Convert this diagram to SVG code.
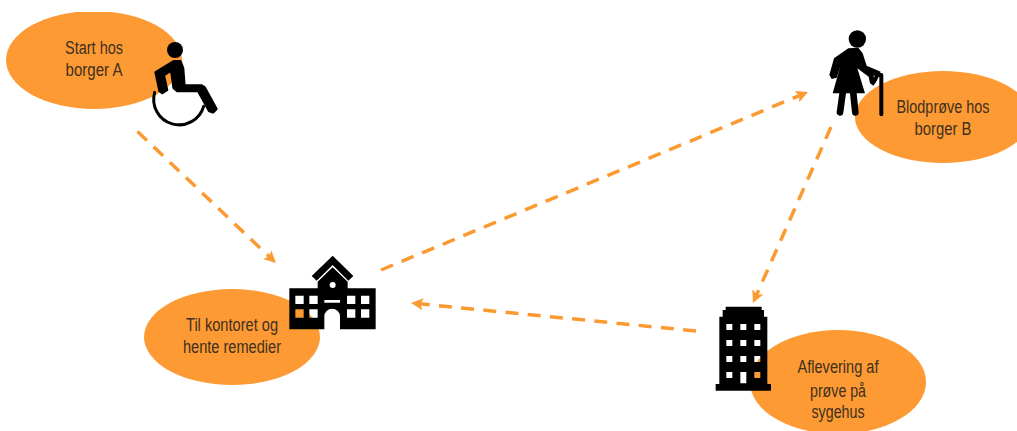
<svg xmlns="http://www.w3.org/2000/svg" width="1017" height="431" viewBox="0 0 1017 431">
<defs>
<marker id="ah" markerUnits="userSpaceOnUse" markerWidth="16" markerHeight="16" refX="6" refY="8" orient="auto"><path d="M0 2L12 8L0 14L2.500 8Z" fill="#fb9a33"/></marker>
<clipPath id="top"><rect x="0" y="12" width="1017" height="419"/></clipPath>
</defs>
<style>
.b{fill:#fd9a33}
.k{fill:#000}
.kr{fill:#000;stroke:#000;stroke-width:8;stroke-linejoin:round}
.h{fill:#000;fill-rule:evenodd}
.ks{fill:none;stroke:#000;stroke-linecap:round;stroke-linejoin:round}
.c{fill:none;stroke:#fb9a33;stroke-width:3.500;stroke-dasharray:13 9.300;marker-end:url(#ah)}
text{font-family:"Liberation Sans",Arial,sans-serif;font-size:18px;fill:#40301f;text-anchor:middle}
</style>
<rect width="1017" height="431" fill="#fff"/>
<g id="connectors">
<path class="c" d="M137.500 131.500L271.600 258.900"/>
<path class="c" d="M381 270L802.500 94.300"/>
<path class="c" d="M831 127L755.400 297.500"/>
<path class="c" d="M696 331L417 303.600"/>
</g>
<g id="node-a">
<ellipse class="b" cx="94" cy="60" rx="88" ry="49" clip-path="url(#top)"/>
<text x="94" y="54" textLength="58" lengthAdjust="spacingAndGlyphs">Start hos</text>
<text x="94" y="76" textLength="57" lengthAdjust="spacingAndGlyphs">borger A</text>
<g transform="translate(145 35) scale(.3333)">
<circle class="k" cx="90" cy="45" r="24"/>
<path class="kr" d="M32 112L86 79H106L114 100L118 152H170L179 158L214 222L204 232L193 228L160 168H97L86 158L79 106L56 120L66 165L52 174L44 168Z"/>
<path class="ks" stroke-width="9" d="M29 172A76 76 0 1 0 176 214"/>
</g>
</g>
<g id="node-c">
<ellipse class="b" cx="232" cy="337" rx="88" ry="48"/>
<text x="232" y="331" textLength="92" lengthAdjust="spacingAndGlyphs">Til kontoret og</text>
<text x="232" y="353" textLength="98" lengthAdjust="spacingAndGlyphs">hente remedier</text>
<g transform="translate(285 250) scale(.3333)">
<path class="k" d="M143 17L205 78L190 92L143 45L95 92L80 78Z"/>
<path class="h" d="M13 115H98V95L143 52L188 95V115H272V238H165V200A23.500 23.500 0 0 0 118 200V238H13ZM31 137V162H56V137ZM73 137V162H98V137ZM186 137V162H211V137ZM228 137V162H253V137ZM31 178V203H56V178ZM73 178V203H98V178ZM186 178V203H211V178ZM228 178V203H253V178ZM118 150V158H165V150ZM143 96A9 9 0 1 0 143 114A9 9 0 1 0 143 96Z"/>
</g>
</g>
<g id="node-b">
<ellipse class="b" cx="943" cy="117" rx="88" ry="46"/>
<text x="943" y="113" textLength="93" lengthAdjust="spacingAndGlyphs">Blodprøve hos</text>
<text x="943" y="135" textLength="57" lengthAdjust="spacingAndGlyphs">borger B</text>
<g transform="translate(820 25) scale(.3333)">
<circle class="k" cx="112" cy="42" r="26"/>
<path class="k" d="M85 70L115 68L128 85L140 122L182 140L178 152L160 152L168 172L160 182L150 175L146 155L112 130L135 205H38L62 120L50 158L35 162L28 150L42 100Z"/>
<path class="ks" stroke-width="20" d="M68 205L60 262M100 205L106 262"/>
<path class="ks" stroke-width="12" d="M165 165L172 150H184V268"/>
</g>
</g>
<g id="node-d">
<ellipse class="b" cx="838" cy="382" rx="88" ry="52"/>
<text x="838" y="373" textLength="81" lengthAdjust="spacingAndGlyphs">Aflevering af</text>
<text x="838" y="397" textLength="56" lengthAdjust="spacingAndGlyphs">prøve på</text>
<text x="838" y="418" textLength="53" lengthAdjust="spacingAndGlyphs">sygehus</text>
<g transform="translate(680 290) scale(.3333)">
<path class="h" d="M137 50H245V60H252V80H262V282H273V302H107V282H118V80H128V60H137ZM139 102V120H157V102ZM181 102V120H199V102ZM223 102V120H241V102ZM139 150V168H157V150ZM181 150V168H199V150ZM223 150V168H241V150ZM139 198V216H157V198ZM181 198V216H199V198ZM223 198V216H241V198ZM139 246V264H157V246ZM181 246V280H199V246ZM223 246V264H241V246Z"/>
</g>
</g>
</svg>
